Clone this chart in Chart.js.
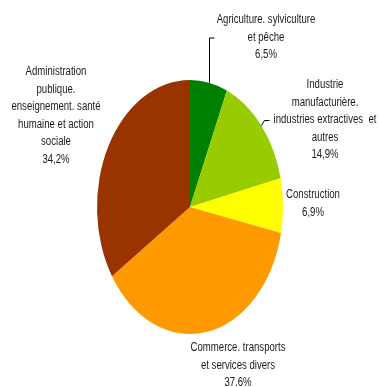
<!DOCTYPE html>
<html>
<head>
<meta charset="utf-8">
<script src="https://cdn.jsdelivr.net/npm/chart.js@4.4.1/dist/chart.umd.min.js"></script>
<style>
  html, body { margin: 0; padding: 0; background: #fff; }
  #wrap { width: 379px; height: 387px; position: relative; }
</style>
</head>
<body>
<div id="wrap"><canvas id="pieChart" width="379" height="387"></canvas></div>
<script>
// sectors, clockwise from 12 o'clock
const sectors = [
    'Agriculture. sylviculture et pêche',
    'Industrie manufacturière. industries extractives et autres',
    'Construction',
    'Commerce. transports et services divers',
    'Administration publique. enseignement. santé humaine et action sociale'
];
const shares = [6.5, 14.9, 6.9, 37.6, 34.2];
const shareText = ['6,5%', '14,9%', '6,9%', '37.6%', '34,2%'];
const sliceColors = ['#008000', '#99cc00', '#ffff00', '#ff9900', '#993300'];

// label lines as printed (last line is the share)
const labelLines = [
    ['Agriculture. sylviculture', 'et pêche'],
    ['Industrie', 'manufacturière.', 'industries extractives  et', 'autres'],
    ['Construction'],
    ['Commerce. transports', 'et services divers'],
    ['Administration', 'publique.', 'enseignement. santé', 'humaine et action', 'sociale']
];

// where each label block sits (centre x, first line y) and whether it has a leader
const labelPos = [
    { x: 266, y: 20, leader: 'top' },
    { x: 325, y: 85, leader: 'side' },
    { x: 313, y: 195 },
    { x: 238, y: 348 },
    { x: 56, y: 72 }
];

const squeeze = 93 / 127; // pie is drawn as an upright ellipse
const textSqueeze = 0.8;  // condensed look for the labels
const lineH = 17.5;
const font = '12px "Liberation Sans", Arial, sans-serif';

function arcCentre(chart) {
    const arc = chart.getDatasetMeta(0).data[0];
    return { x: arc.x, y: arc.y, r: arc.outerRadius };
}

function condensedText(ctx, t, x, y) {
    ctx.save();
    ctx.translate(x, y);
    ctx.scale(textSqueeze, 1);
    ctx.fillText(t, 0, 0);
    ctx.restore();
}

const ellipsePlugin = {
    id: 'ellipse',
    beforeDatasetsDraw(chart) {
        const c = arcCentre(chart);
        const ctx = chart.ctx;
        ctx.save();
        ctx.translate(c.x, c.y);
        ctx.scale(squeeze, 1);
        ctx.translate(-c.x, -c.y);
    },
    afterDatasetsDraw(chart) {
        chart.ctx.restore();
    }
};

const labelPlugin = {
    id: 'sliceLabels',
    afterDraw(chart) {
        const ctx = chart.ctx;
        const c = arcCentre(chart);
        const arcs = chart.getDatasetMeta(0).data;
        ctx.save();
        ctx.font = font;
        ctx.fillStyle = '#1a1a1a';
        ctx.textAlign = 'center';
        ctx.textBaseline = 'middle';
        labelLines.forEach((lines, i) => {
            const p = labelPos[i];
            const all = lines.concat([shareText[i]]);
            all.forEach((t, j) => condensedText(ctx, t, p.x, p.y + j * lineH));

            if (!p.leader) return;
            // anchor on the ellipse edge at the slice's mid angle
            const a = (arcs[i].startAngle + arcs[i].endAngle) / 2;
            const ax = c.x + Math.cos(a) * c.r * squeeze;
            const ay = c.y + Math.sin(a) * c.r;
            ctx.strokeStyle = '#000';
            ctx.lineWidth = 1;
            ctx.beginPath();
            if (p.leader === 'top') {
                const yTop = p.y + lineH;
                ctx.moveTo(Math.round(ax) + 0.5, ay);
                ctx.lineTo(Math.round(ax) + 0.5, yTop + 0.5);
                ctx.lineTo(Math.round(ax) + 5.5, yTop + 0.5);
            } else {
                const yLine = p.y + 2 * lineH;
                ctx.moveTo(ax, ay);
                ctx.lineTo(ax + 3, yLine + 0.5);
                ctx.lineTo(ax + 8, yLine + 0.5);
            }
            ctx.stroke();
        });
        ctx.restore();
    }
};

new Chart(document.getElementById('pieChart'), {
    type: 'pie',
    data: {
        labels: sectors,
        datasets: [{
            data: shares,
            backgroundColor: sliceColors,
            borderWidth: 0
        }]
    },
    options: {
        responsive: false,
        animation: false,
        events: [],
        layout: { padding: { left: 63, right: 62, top: 80, bottom: 53 } },
        plugins: {
            legend: { display: false },
            tooltip: { enabled: false }
        }
    },
    plugins: [ellipsePlugin, labelPlugin]
});
</script>
</body>
</html>
